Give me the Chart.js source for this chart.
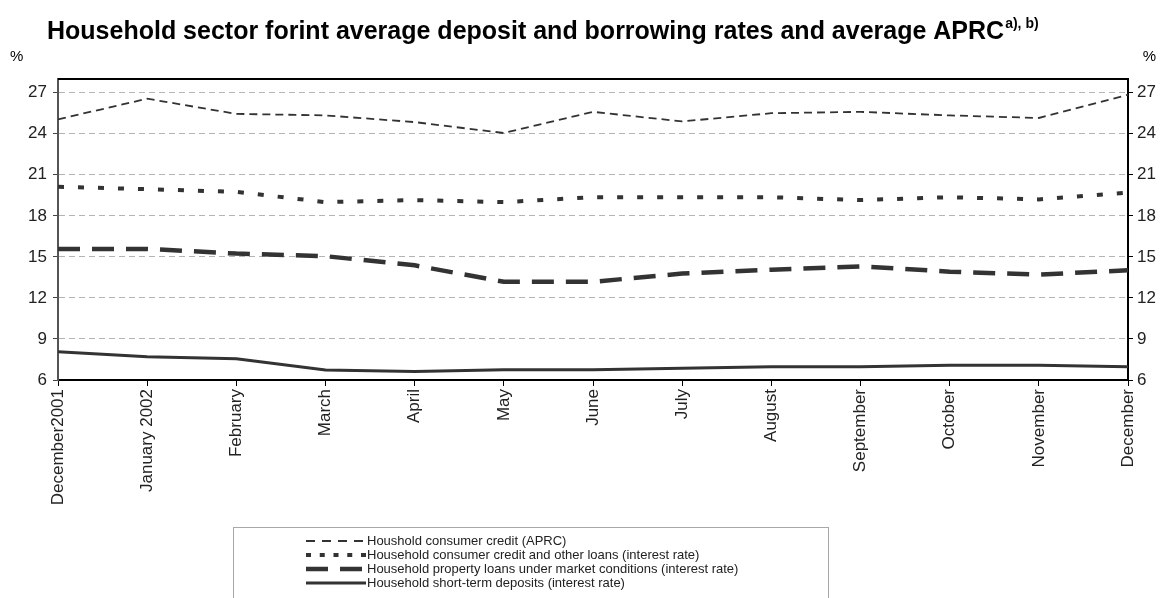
<!DOCTYPE html>
<html>
<head>
    <meta charset="utf-8" />
    <title>Household sector forint average deposit and borrowing rates</title>
    <script src="https://cdn.jsdelivr.net/npm/chart.js@4.4.1/dist/chart.umd.min.js"></script>
    <style>
        body { margin: 0; background: #ffffff; }
        .chart-box { position: relative; width: 1164px; height: 598px; }
    </style>
</head>
<body>
    <div class="chart-box"><canvas id="ratesChart"></canvas></div>
    <script>
        // months on the x axis
        const months = ['December2001', 'January 2002', 'February', 'March', 'April', 'May',
                        'June', 'July', 'August', 'September', 'October', 'November', 'December'];

        // series values (%)
        const aprc = [25.05, 26.56, 25.45, 25.34, 24.85, 24.05, 25.6, 24.9, 25.5, 25.6, 25.34, 25.15, 26.85];
        const consumerLoans = [20.12, 19.95, 19.75, 19.0, 19.15, 19.0, 19.36, 19.36, 19.36, 19.15, 19.36, 19.2, 19.7];
        const propertyLoans = [15.58, 15.58, 15.24, 15.05, 14.38, 13.18, 13.18, 13.78, 14.06, 14.3, 13.92, 13.7, 14.02];
        const deposits = [8.07, 7.7, 7.56, 6.73, 6.63, 6.75, 6.75, 6.85, 6.97, 6.97, 7.07, 7.07, 6.97];

        const seriesNames = [
            'Houshold consumer credit (APRC)',
            'Household consumer credit and other loans (interest rate)',
            'Household property loans under market conditions (interest rate)',
            'Household short-term deposits (interest rate)'
        ];

        // y axis range and tick labels (both sides)
        const yMin = 6, yMax = 28;
        const yTicks = [6, 9, 12, 15, 18, 21, 24, 27];

        const FONT = '"Liberation Sans", Arial, sans-serif';
        const INK = '#333333';

        // title, % labels, frame and legend drawn on the canvas
        const decorPlugin = {
            id: 'decor',
            afterDraw(chart) {
                const ctx = chart.ctx;
                const area = chart.chartArea;
                ctx.save();

                // title with superscript
                ctx.fillStyle = '#000';
                ctx.textBaseline = 'alphabetic';
                ctx.textAlign = 'left';
                ctx.font = 'bold 25px ' + FONT;
                const title = 'Household sector forint average deposit and borrowing rates and average APRC';
                ctx.fillText(title, 47, 39);
                const w = ctx.measureText(title).width;
                ctx.font = 'bold 14px ' + FONT;
                ctx.fillText('a), b)', 47 + w + 1, 28);

                // unit labels
                ctx.font = '15px ' + FONT;
                ctx.fillText('%', 10, 61);
                ctx.textAlign = 'right';
                ctx.fillText('%', 1156, 61);

                // top frame line
                ctx.strokeStyle = '#000';
                ctx.lineWidth = 2;
                ctx.beginPath();
                ctx.moveTo(area.left, area.top);
                ctx.lineTo(area.right, area.top);
                ctx.stroke();

                // legend box
                ctx.strokeStyle = '#a8a8a8';
                ctx.lineWidth = 1;
                ctx.strokeRect(233.5, 527.5, 595, 80);
                ctx.font = '13px ' + FONT;
                ctx.textAlign = 'left';
                ctx.textBaseline = 'middle';
                chart.data.datasets.forEach((ds, i) => {
                    const y = 541 + i * 14;
                    ctx.strokeStyle = ds.borderColor;
                    ctx.lineWidth = ds.borderWidth;
                    ctx.setLineDash(ds.legendDash || ds.borderDash || []);
                    ctx.beginPath();
                    ctx.moveTo(306, y);
                    ctx.lineTo(366, y);
                    ctx.stroke();
                    ctx.setLineDash([]);
                    ctx.fillStyle = '#222';
                    ctx.fillText(ds.label, 367, y);
                });
                ctx.restore();
            }
        };

        const ctx = document.getElementById('ratesChart').getContext('2d');
        new Chart(ctx, {
            type: 'line',
            data: {
                labels: months,
                datasets: [
                    {
                        label: seriesNames[0],
                        data: aprc,
                        borderColor: INK,
                        borderWidth: 1.8,
                        borderDash: [8, 5],
                        legendDash: [9, 7],
                        yAxisID: 'y'
                    },
                    {
                        label: seriesNames[1],
                        data: consumerLoans,
                        borderColor: INK,
                        borderWidth: 4,
                        borderDash: [6, 14],
                        legendDash: [5, 8.75],
                        yAxisID: 'y'
                    },
                    {
                        label: seriesNames[2],
                        data: propertyLoans,
                        borderColor: INK,
                        borderWidth: 4.5,
                        borderDash: [22, 12],
                        legendDash: [22, 12],
                        yAxisID: 'y'
                    },
                    {
                        label: seriesNames[3],
                        data: deposits,
                        borderColor: INK,
                        borderWidth: 3,
                        borderDash: [],
                        yAxisID: 'y'
                    }
                ]
            },
            options: {
                responsive: true,
                maintainAspectRatio: false,
                animation: false,
                layout: { padding: { top: 79, left: 0, right: 0, bottom: 0 } },
                elements: {
                    point: { radius: 0 },
                    line: { tension: 0, fill: false, borderCapStyle: 'butt' }
                },
                plugins: {
                    legend: { display: false },
                    title: { display: false },
                    tooltip: { enabled: false }
                },
                scales: {
                    x: {
                        offset: false,
                        afterFit: (scale) => { scale.height = 218; },
                        grid: {
                            drawOnChartArea: false,
                            drawTicks: true,
                            tickLength: 6,
                            tickColor: '#000',
                            tickWidth: 1
                        },
                        border: { display: true, color: '#000', width: 2 },
                        ticks: {
                            autoSkip: false,
                            maxRotation: 90,
                            minRotation: 90,
                            padding: 3,
                            color: '#222',
                            font: { family: FONT, size: 17 }
                        }
                    },
                    y: {
                        position: 'left',
                        min: yMin,
                        max: yMax,
                        afterFit: (scale) => { scale.width = 58; },
                        afterBuildTicks: (scale) => {
                            scale.ticks = yTicks.map(v => ({ value: v }));
                        },
                        grid: {
                            color: '#b4b4b4',
                            lineWidth: 1,
                            drawTicks: true,
                            tickLength: 5,
                            tickColor: '#444',
                            tickWidth: 1
                        },
                        border: { display: true, color: '#555', width: 2, dash: [6, 4] },
                        ticks: {
                            padding: 6,
                            color: '#222',
                            font: { family: FONT, size: 17 }
                        }
                    },
                    y2: {
                        position: 'right',
                        min: yMin,
                        max: yMax,
                        afterFit: (scale) => { scale.width = 36; },
                        afterBuildTicks: (scale) => {
                            scale.ticks = yTicks.map(v => ({ value: v }));
                        },
                        grid: {
                            drawOnChartArea: false,
                            drawTicks: true,
                            tickLength: 5,
                            tickColor: '#000',
                            tickWidth: 1
                        },
                        border: { display: true, color: '#000', width: 2 },
                        ticks: {
                            padding: 4,
                            color: '#222',
                            font: { family: FONT, size: 17 }
                        }
                    }
                }
            },
            plugins: [decorPlugin]
        });
    </script>
</body>
</html>
